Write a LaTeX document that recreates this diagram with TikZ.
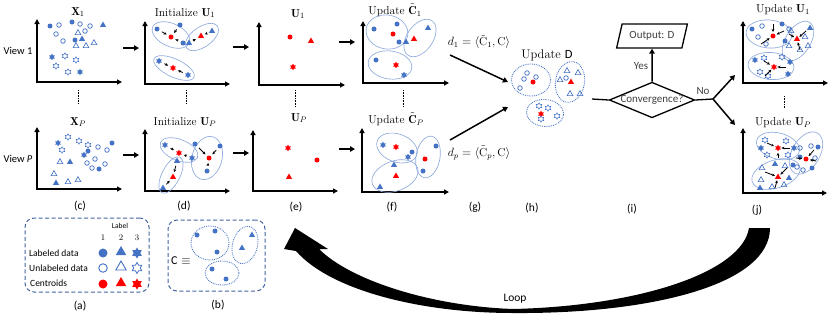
\documentclass[tikz,border=0pt]{standalone}
\usepackage{fontspec}
\setsansfont{Carlito}
\usetikzlibrary{shapes.geometric,arrows.meta}
\definecolor{pblue}{RGB}{68,114,196}
\definecolor{ecol}{RGB}{143,170,220}
\definecolor{boxcol}{RGB}{68,100,160}
\definecolor{cred}{RGB}{255,0,0}
\definecolor{tgray}{RGB}{64,64,64}
\newcounter{mkc}
\newcommand\mk[3]{\stepcounter{mkc}\node[#1] (mk\arabic{mkc}) at (#2,#3) {};}
\newcommand\pt[4]{\node[#1] (#2) at (#3,#4) {};}
\begin{document}
\begin{tikzpicture}[x=1pt,y=-1pt,
 mkr/.style={inner sep=0pt,outer sep=0pt},
 fc/.style={mkr,circle,fill=pblue,minimum size=5pt},
 oc/.style={mkr,circle,draw=pblue,line width=0.75pt,minimum size=4.6pt},
 ft/.style={mkr,regular polygon,regular polygon sides=3,fill=pblue,minimum size=7pt},
 ot/.style={mkr,regular polygon,regular polygon sides=3,draw=pblue,line width=0.65pt,minimum size=6.6pt},
 fs/.style={mkr,star,star points=6,star point ratio=1.7,fill=pblue,minimum size=6.6pt},
 os/.style={mkr,star,star points=6,star point ratio=1.7,draw=pblue,line width=0.55pt,minimum size=6.4pt},
 rc/.style={fc,fill=cred}, rt/.style={ft,fill=cred}, rs/.style={fs,fill=cred},
 cl/.style={ellipse,draw=ecol,line width=0.65pt,inner sep=0pt},
 dcl/.style={ellipse,draw=pblue,densely dotted,line width=0.85pt,inner sep=0pt},
 axisl/.style={line width=1.7pt,{Triangle[length=5pt,width=5pt]}-{Triangle[length=5pt,width=5pt]}},
 barr/.style={line width=1.5pt,-{Triangle[length=5pt,width=5.5pt]}},
 sarr/.style={line width=0.8pt,-{Stealth[length=3pt,width=2.8pt]},shorten <=3pt,shorten >=2.5pt},
 jarr/.style={line width=0.8pt,-{Stealth[length=3pt,width=2.8pt]},shorten >=1.5pt},
 vdots/.style={line width=0.8pt,dash pattern=on 0.8pt off 0.8pt},
 ttl/.style={inner sep=0pt,font=\fontsize{11.5}{13}\selectfont},
 capt/.style={inner sep=0pt,font=\sffamily\fontsize{10.5}{12}\selectfont},
 plab/.style={inner sep=0pt,font=\sffamily\fontsize{11.5}{13}\selectfont},
 gtxt/.style={inner sep=0pt,text=tgray,font=\sffamily\fontsize{11}{13}\selectfont},
 lgd/.style={inner sep=0pt,font=\sffamily\fontsize{9.5}{11}\selectfont},
 dbox/.style={draw=boxcol,dash pattern=on 4pt off 2.5pt,line width=1pt,rounded corners=9pt,inner sep=0pt},
]
\useasboundingbox (0,0) rectangle (830,314);

% ---------- view labels ----------
\node[capt] (v1) at (18,51) {View 1};
\node[capt] (vp) at (18,159) {View \textit{P}};

% ---------- axes ----------
\draw[axisl] (37,19) |- (122,82);
\draw[axisl] (37,127) |- (122,189);
\draw[axisl] (145,21) |- (230,84);
\draw[axisl] (145,129) |- (230,191);
\draw[axisl] (259,22) |- (345,85);
\draw[axisl] (253,130) |- (338,191);
\draw[axisl] (363,21) |- (449,83);
\draw[axisl] (362,128) |- (449,192);
\draw[axisl] (743,21) |- (828,83);
\draw[axisl] (743,128) |- (827,193);

% ---------- titles ----------
\node[ttl] (tX1) at (78,12) {$\mathbf{X}_1$};
\node[ttl] (tXP) at (78,122) {$\mathbf{X}_P$};
\node[ttl] (tI1) at (185,13) {Initialize $\mathbf{U}_1$};
\node[ttl] (tIP) at (185,122) {Initialize $\mathbf{U}_P$};
\node[ttl] (tU1) at (298,14) {$\mathbf{U}_1$};
\node[ttl] (tUP) at (299,118) {$\mathbf{U}_P$};
\node[ttl] (tC1) at (395,10) {Update $\tilde{\mathbf{C}}_1$};
\node[ttl] (tCP) at (396,119) {Update $\tilde{\mathbf{C}}_P$};
\node[ttl,font=\fontsize{12.5}{14}\selectfont] (tD) at (547,55) {Update {\sffamily D}};
\node[ttl] (tJ1) at (783,10) {Update $\mathbf{U}_1$};
\node[ttl] (tJP) at (783,123) {Update $\mathbf{U}_P$};

% ---------- vertical dots ----------
\coordinate (vd1a) at (78,90); \coordinate (vd1b) at (78,104);
\coordinate (vd2a) at (186,90); \coordinate (vd2b) at (186,104);
\coordinate (vd3a) at (295,90); \coordinate (vd3b) at (295,107);
\coordinate (vd4a) at (403,90); \coordinate (vd4b) at (403,107);
\coordinate (vd5a) at (784,96); \coordinate (vd5b) at (784,108);
\foreach \i in {1,...,5} \draw[vdots] (vd\i a) -- (vd\i b);

% ---------- panel arrows ----------
\coordinate (a1s) at (123,48); \coordinate (a1e) at (139,48);
\coordinate (a2s) at (123,155); \coordinate (a2e) at (139,155);
\coordinate (a3s) at (233,47); \coordinate (a3e) at (249,47);
\coordinate (a4s) at (233,153); \coordinate (a4e) at (249,153);
\coordinate (a5s) at (339,42); \coordinate (a5e) at (355,42);
\coordinate (a6s) at (339,149); \coordinate (a6e) at (355,149);
\foreach \i in {1,...,6} \draw[barr] (a\i s) -- (a\i e);

% ---------- (c) top ----------
\mk{fc}{50}{26} \mk{oc}{59}{25} \mk{fc}{72}{22} \mk{oc}{80}{24} \mk{oc}{90}{26} \mk{ft}{103}{25}
\mk{oc}{56}{34} \mk{ot}{78}{33} \mk{oc}{85}{31} \mk{ft}{82}{39} \mk{oc}{63}{41} \mk{fc}{75}{40}
\mk{ot}{76}{46} \mk{ot}{86}{46} \mk{ot}{94}{43}
\mk{fs}{52}{57} \mk{os}{65}{56} \mk{os}{76}{60} \mk{os}{56}{66} \mk{os}{68}{72} \mk{fs}{80}{72}
% ---------- (c) bottom ----------
\mk{fs}{58}{143} \mk{os}{68}{137} \mk{os}{79}{141} \mk{os}{62}{150} \mk{os}{88}{145} \mk{fc}{88}{151}
\mk{oc}{98}{147} \mk{fc}{112}{143} \mk{oc}{107}{150} \mk{fs}{84}{155} \mk{oc}{87}{163} \mk{oc}{92}{168}
\mk{oc}{95}{159} \mk{oc}{105}{164} \mk{fc}{99}{169}
\mk{ot}{60}{162} \mk{ft}{70}{162} \mk{ot}{54}{174} \mk{ft}{56}{183} \mk{ot}{68}{182} \mk{ot}{78}{180}

% ---------- (d) top ----------
\node[cl,minimum width=40pt,minimum height=23pt,rotate=-24] (dE1) at (171,35) {};
\node[cl,minimum width=38pt,minimum height=20pt,rotate=35] (dE2) at (202,37) {};
\node[cl,minimum width=44pt,minimum height=18pt,rotate=-25] (dE3) at (174,68) {};
\pt{fc}{dA1}{157}{29} \pt{fc}{dA2}{180}{25} \pt{rc}{dA3}{171}{37} \pt{fc}{dA4}{183}{43}
\pt{ft}{dB1}{189}{43} \pt{rt}{dB2}{201}{36} \pt{ft}{dB3}{212}{31}
\pt{fs}{dC1}{159}{61} \pt{rs}{dC2}{173}{68} \pt{fs}{dC3}{188}{75}
\draw[sarr] (dA1) -- (dA3); \draw[sarr] (dA2) -- (dA3); \draw[sarr] (dA4) -- (dA3);
\draw[sarr] (dB1) -- (dB2); \draw[sarr] (dB3) -- (dB2);
\draw[sarr] (dC1) -- (dC2); \draw[sarr] (dC3) -- (dC2);
% ---------- (d) bottom ----------
\node[cl,minimum width=40pt,minimum height=21pt,rotate=-22] (dE4) at (179,150) {};
\node[cl,minimum width=44pt,minimum height=30pt,rotate=75] (dE5) at (207,158) {};
\node[cl,minimum width=40pt,minimum height=18pt,rotate=63] (dE6) at (171,175) {};
\pt{fs}{dD1}{165}{145} \pt{rs}{dD2}{179}{153} \pt{fs}{dD3}{192}{158}
\pt{fc}{dF1}{195}{144} \pt{rc}{dF2}{209}{158} \pt{fc}{dF3}{220}{146} \pt{fc}{dF4}{207}{171}
\pt{ft}{dG1}{177}{161} \pt{rt}{dG2}{173}{177} \pt{ft}{dG3}{163}{188}
\draw[sarr] (dD1) -- (dD2); \draw[sarr] (dD3) -- (dD2);
\draw[sarr] (dF1) -- (dF2); \draw[sarr] (dF3) -- (dF2); \draw[sarr] (dF4) -- (dF2);
\draw[sarr] (dG1) -- (dG2); \draw[sarr] (dG3) -- (dG2);

% ---------- (e) ----------
\mk{rc}{290}{37} \mk{rt}{311}{41} \mk{rs}{293}{67}
\mk{rs}{288}{148} \mk{rc}{317}{160} \mk{rt}{289}{177}

% ---------- (f) top ----------
\node[cl,minimum width=42pt,minimum height=34pt,rotate=-10] (fE1) at (387,32) {};
\node[cl,minimum width=42pt,minimum height=26pt,rotate=55] (fE2) at (420,38) {};
\node[cl,minimum width=44pt,minimum height=28pt,rotate=-8] (fE3) at (390,65) {};
\mk{fc}{374}{29} \mk{fc}{397}{24} \mk{rc}{393}{34} \mk{fc}{399}{42} \mk{ft}{406}{42} \mk{rt}{414}{39}
\mk{ft}{428}{28} \mk{fc}{376}{60} \mk{rs}{396}{65} \mk{fs}{404}{75}
% ---------- (f) bottom ----------
\node[cl,minimum width=42pt,minimum height=28pt,rotate=-20] (fE4) at (397,148) {};
\node[cl,minimum width=42pt,minimum height=24pt,rotate=80] (fE5) at (428,157) {};
\node[cl,minimum width=48pt,minimum height=30pt,rotate=20] (fE6) at (395,176) {};
\mk{fs}{383}{145} \mk{rs}{396}{147} \mk{fc}{412}{152} \mk{fs}{408}{157} \mk{fc}{436}{146}
\mk{rc}{425}{159} \mk{fc}{423}{171} \mk{ft}{394}{165} \mk{rt}{396}{176} \mk{ft}{380}{187}

% ---------- (g) ----------
\coordinate (g1s) at (450,55); \coordinate (g1e) at (508,82);
\coordinate (g2s) at (450,140); \coordinate (g2e) at (508,107);
\draw[barr] (g1s) -- (g1e);
\draw[barr] (g2s) -- (g2e);
\node[ttl] (d1) at (479,42) {$d_1=\langle\tilde{\mathrm{C}}_1,\mathrm{C}\rangle$};
\node[ttl] (dp) at (479,153) {$d_p=\langle\tilde{\mathrm{C}}_p,\mathrm{C}\rangle$};

% ---------- (h) ----------
\node[dcl,minimum width=39pt,minimum height=32pt] (hE1) at (531,80) {};
\node[dcl,minimum width=41pt,minimum height=29pt,rotate=80] (hE2) at (570,82) {};
\node[dcl,minimum width=37pt,minimum height=27pt,rotate=-5] (hE3) at (545,113) {};
\mk{oc}{527}{73} \mk{oc}{536}{77} \mk{oc}{524}{79} \mk{rc}{533}{82} \mk{oc}{520}{88}
\mk{ot}{567}{71} \mk{ot}{560}{80} \mk{oc}{566}{78} \mk{rt}{571}{82} \mk{ot}{578}{73} \mk{ot}{570}{94} \mk{ot}{580}{94}
\mk{os}{539}{106} \mk{rs}{541}{114} \mk{os}{548}{108} \mk{os}{557}{116} \mk{os}{541}{119}

% ---------- (i) ----------
\coordinate (hL) at (592,99);
\node[draw,line width=1.3pt,diamond,aspect=2.4,minimum width=84pt,minimum height=34pt,inner sep=0pt,
      text=tgray,font=\sffamily\fontsize{11}{13}\selectfont] (conv) at (652,100) {Convergence?};
\node[draw,line width=1.3pt,trapezium,trapezium left angle=65,trapezium right angle=115,
      trapezium stretches=true,minimum width=71pt,minimum height=24pt,inner sep=0pt,
      text=tgray,font=\sffamily\fontsize{11}{13}\selectfont] (out) at (652,36) {Output: D};
\draw[line width=1.3pt] (hL) -- (conv.west);
\draw[barr] (conv.north) -- (out.south);
\node[gtxt] (yes) at (641,66) {Yes};
\coordinate (split) at (713,99);
\coordinate (n1) at (735,75); \coordinate (n2) at (735,125);
\draw[line width=1.3pt] (conv.east) -- (split);
\draw[barr] (split) -- (n1);
\draw[barr] (split) -- (n2);
\node[gtxt] (no) at (703,91) {No};

% ---------- (j) top ----------
\node[cl,minimum width=46pt,minimum height=28pt,rotate=-5] (jE1) at (769,34) {};
\node[cl,minimum width=44pt,minimum height=25pt,rotate=58] (jE2) at (798,41) {};
\node[cl,minimum width=46pt,minimum height=27pt,rotate=-5] (jE3) at (771,66) {};
\pt{rc}{jr1}{773}{36} \pt{rt}{jr2}{797}{39} \pt{rs}{jr3}{774}{67}
\mk{fc}{752}{29} \mk{oc}{762}{26} \mk{fc}{782}{24} \mk{oc}{758}{37} \mk{oc}{766}{44} \mk{fc}{785}{41} \mk{oc}{789}{29}
\mk{ot}{791}{31} \mk{ft}{810}{28} \mk{ot}{805}{37} \mk{ot}{789}{46} \mk{ot}{800}{50} \mk{ot}{808}{46}
\mk{fs}{755}{60} \mk{os}{764}{58} \mk{os}{782}{57} \mk{os}{760}{72} \mk{os}{768}{76} \mk{fs}{788}{74} \mk{fs}{790}{62}
\coordinate (j1a) at (773,24); \coordinate (j1b) at (761,44); \coordinate (j1c) at (784,31);
\coordinate (j2a) at (806,31); \coordinate (j2b) at (800,50); \coordinate (j2c) at (789,34);
\coordinate (j3a) at (764,61); \coordinate (j3b) at (765,76); \coordinate (j3c) at (786,67);
\draw[jarr] (j1a) -- (jr1); \draw[jarr] (j1b) -- (jr1); \draw[jarr] (j1c) -- (jr1);
\draw[jarr] (j2a) -- (jr2); \draw[jarr] (j2b) -- (jr2); \draw[jarr] (j2c) -- (jr2);
\draw[jarr] (j3a) -- (jr3); \draw[jarr] (j3b) -- (jr3); \draw[jarr] (j3c) -- (jr3);
% ---------- (j) bottom ----------
\node[cl,minimum width=44pt,minimum height=26pt,rotate=-15] (jE4) at (778,146) {};
\node[cl,minimum width=46pt,minimum height=28pt,rotate=60] (jE5) at (806,153) {};
\node[cl,minimum width=50pt,minimum height=28pt,rotate=18] (jE6) at (776,174) {};
\pt{rs}{jr4}{778}{148} \pt{rc}{jr5}{806}{159} \pt{rt}{jr6}{778}{177}
\mk{os}{765}{140} \mk{fs}{761}{148} \mk{os}{767}{155} \mk{os}{786}{141} \mk{os}{788}{155} \mk{fs}{794}{148}
\mk{oc}{800}{148} \mk{oc}{811}{146} \mk{fc}{818}{147} \mk{oc}{815}{158} \mk{fc}{800}{157} \mk{oc}{797}{167}
\mk{oc}{803}{170} \mk{fc}{812}{168} \mk{fc}{793}{165}
\mk{ot}{762}{168} \mk{ft}{775}{164} \mk{ot}{785}{166} \mk{ot}{761}{180} \mk{ot}{772}{187} \mk{ot}{784}{185} \mk{ft}{760}{188} \mk{ft}{789}{178}
\coordinate (j4a) at (767,143); \coordinate (j4b) at (790,148); \coordinate (j4c) at (778,158);
\coordinate (j5a) at (814,150); \coordinate (j5b) at (816,161); \coordinate (j5c) at (796,158);
\coordinate (j6a) at (765,172); \coordinate (j6b) at (787,168); \coordinate (j6c) at (775,188);
\draw[jarr] (j4a) -- (jr4); \draw[jarr] (j4b) -- (jr4); \draw[jarr] (j4c) -- (jr4);
\draw[jarr] (j5a) -- (jr5); \draw[jarr] (j5b) -- (jr5); \draw[jarr] (j5c) -- (jr5);
\draw[jarr] (j6a) -- (jr6); \draw[jarr] (j6b) -- (jr6); \draw[jarr] (j6c) -- (jr6);

% ---------- panel letters ----------
\node[plab] (la) at (80,306) {(a)};
\node[plab] (lb) at (218,305) {(b)};
\node[plab] (lc) at (80,206) {(c)};
\node[plab] (ld) at (184,206) {(d)};
\node[plab] (le) at (296,207) {(e)};
\node[plab] (lf) at (392,207) {(f)};
\node[plab] (lg) at (475,207) {(g)};
\node[plab] (lh) at (532,208) {(h)};
\node[plab] (li) at (632,209) {(i)};
\node[plab] (lj) at (757,210) {(j)};

% ---------- legend (a) ----------
\node[dbox,minimum width=124pt,minimum height=74pt] (boxa) at (87,255) {};
\node[inner sep=0pt,font=\sffamily\fontsize{7.5}{9}\selectfont] (lbl) at (120,226) {Label};
\node[inner sep=0pt,font=\fontsize{8.5}{9}\selectfont] (n1l) at (103,238) {1};
\node[inner sep=0pt,font=\fontsize{8.5}{9}\selectfont] (n2l) at (121,238) {2};
\node[inner sep=0pt,font=\fontsize{8.5}{9}\selectfont] (n3l) at (137,238) {3};
\node[lgd,anchor=west] (tl1) at (29,253) {Labeled data};
\node[lgd,anchor=west] (tl2) at (29,268) {Unlabeled data};
\node[lgd,anchor=west] (tl3) at (30,283) {Centroids};
\node[fc,minimum size=9pt] (s11) at (103,253) {};
\node[ft,minimum size=12pt] (s12) at (121,252) {};
\node[fs,minimum size=11pt] (s13) at (137,253) {};
\node[oc,minimum size=8.5pt,line width=0.9pt] (s21) at (103,268) {};
\node[ot,minimum size=12pt,line width=0.9pt] (s22) at (121,267) {};
\node[os,minimum size=11pt,line width=0.8pt] (s23) at (137,268) {};
\node[rc,minimum size=9pt] (s31) at (103,284) {};
\node[rt,minimum size=12pt] (s32) at (121,283) {};
\node[rs,minimum size=11pt] (s33) at (137,284) {};

% ---------- legend (b) ----------
\node[dbox,minimum width=97pt,minimum height=71pt] (boxb) at (216.5,255.5) {};
\node[inner sep=0pt,font=\fontsize{12}{13}\selectfont] (ceq) at (181,261) {{\sffamily C} $\equiv$};
\node[dcl,minimum width=38pt,minimum height=34pt] (bE1) at (210,243) {};
\node[dcl,minimum width=38pt,minimum height=25pt,rotate=75] (bE2) at (245,245) {};
\node[dcl,minimum width=34pt,minimum height=24pt] (bE3) at (222,273) {};
\mk{fc}{197}{235} \mk{fc}{215}{231} \mk{fc}{217}{252}
\mk{ft}{252}{235} \mk{ft}{242}{248}
\mk{fc}{212}{269} \mk{fc}{226}{279}

% ---------- loop arrow ----------
\fill (295,228) -- (328,249) -- (319,249)
  .. controls (350,280) and (430,306) .. (513,309)
  .. controls (640,306) and (742,272) .. (749,228)
  -- (770,228)
  .. controls (770,285) and (650,314) .. (513,313)
  .. controls (420,313) and (330,290) .. (296,251)
  -- (284,249) -- cycle;
\node[plab] (loop) at (515,299) {Loop};
\end{tikzpicture}
\end{document}
